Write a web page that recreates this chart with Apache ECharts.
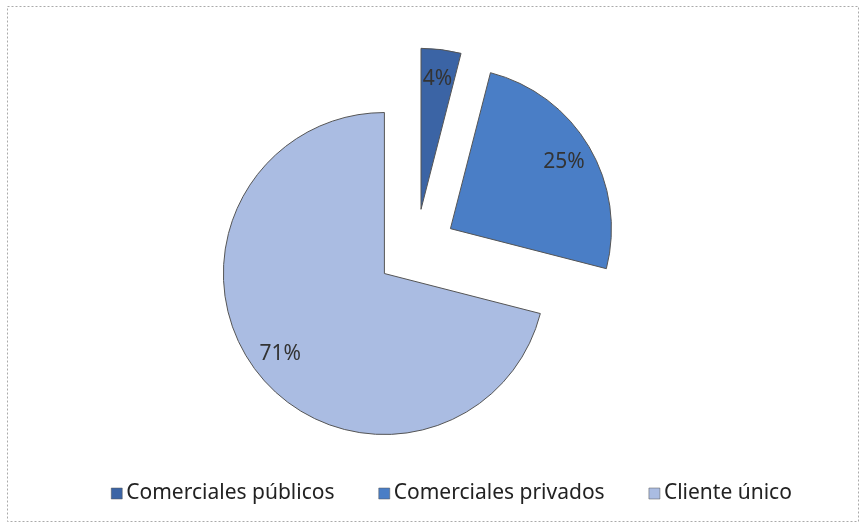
<!DOCTYPE html>
<html>
<head>
<meta charset="utf-8">
<script src="https://cdn.jsdelivr.net/npm/echarts@6/dist/echarts.min.js"></script>
<style>
  html, body { margin: 0; padding: 0; background: #fff; }
  #chart { width: 861px; height: 525px; }
</style>
</head>
<body>
<div id="chart"></div>
<script>
  // datos del gráfico
  var categorias = ['Comerciales públicos', 'Comerciales privados', 'Cliente único'];
  var valores = [4, 25, 71];
  var colores = ['#3b64a5', '#4a7ec6', '#aabce2'];

  var myChart = echarts.init(document.getElementById('chart'));

  var centro = [416, 249];
  var radio = 161;

  var datos = categorias.map(function (n, i) {
    return {
      name: n,
      value: valores[i],
      selected: true,
      itemStyle: { color: colores[i] },
      select: { itemStyle: { color: colores[i] } }
    };
  });

  // anillo transparente solo para colocar las etiquetas a ~0.8 del radio
  var etiquetas = categorias.map(function (n, i) {
    return { name: n, value: valores[i], selected: true };
  });

  var option = {
    animation: false,
    legend: {
      bottom: 16,
      left: 106,
      itemWidth: 11,
      itemHeight: 11,
      itemGap: 44,
      icon: 'rect',
      selectedMode: false,
      textStyle: { fontFamily: 'Noto Sans', fontSize: 21, color: '#222', padding: [0, 0, 0, -1] },
      data: categorias.map(function (n, i) {
        return { name: n, itemStyle: { color: colores[i], borderColor: '#555', borderWidth: 0.5 } };
      })
    },
    graphic: [{
      type: 'rect',
      shape: { x: 7.5, y: 6.5, width: 851, height: 515 },
      style: { fill: 'none', stroke: '#aaa', lineWidth: 1, lineDash: [2, 2] },
      silent: true
    }],
    series: [
      {
        type: 'pie',
        center: centro,
        radius: radio,
        startAngle: 90,
        clockwise: true,
        selectedMode: 'multiple',
        selectedOffset: 40,
        silent: true,
        label: { show: false },
        labelLine: { show: false },
        itemStyle: { borderColor: '#555', borderWidth: 1 },
        select: { itemStyle: { borderColor: '#555', borderWidth: 1 } },
        data: datos
      },
      {
        type: 'pie',
        center: centro,
        radius: [radio * 0.6, radio],
        startAngle: 90,
        clockwise: true,
        selectedMode: 'multiple',
        selectedOffset: 40,
        silent: true,
        itemStyle: { color: 'rgba(0,0,0,0)' },
        select: { itemStyle: { color: 'rgba(0,0,0,0)' } },
        label: {
          show: true,
          position: 'inside',
          formatter: '{c}%',
          fontFamily: 'Noto Sans',
          fontSize: 21,
          color: '#333'
        },
        labelLine: { show: false },
        data: etiquetas
      }
    ]
  };

  myChart.setOption(option);
</script>
</body>
</html>
